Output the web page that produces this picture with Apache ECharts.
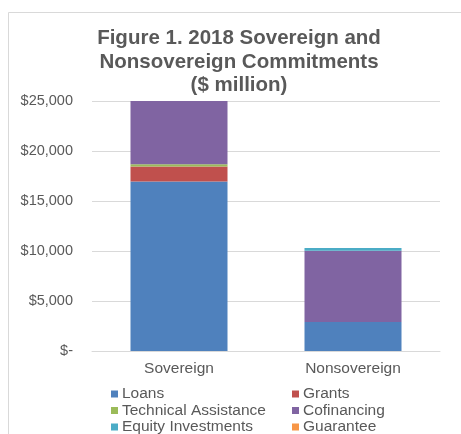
<!DOCTYPE html>
<html>
<head>
<meta charset="utf-8">
<script src="https://cdn.jsdelivr.net/npm/echarts@6/dist/echarts.min.js"></script>
<style>
  html, body { margin: 0; padding: 0; background: #fff; }
  #chart { width: 461px; height: 434px; }
</style>
</head>
<body>
<div id="chart"></div>
<script>
// 2018 commitments by type, $ million
const categories = ['Sovereign', 'Nonsovereign'];
const loans = [16950, 2900];
const grants = [1500, 0];
const technicalAssistance = [220, 0];
const cofinancing = [6330, 7130];
const equityInvestments = [0, 280];
const guarantee = [0, 0];
const yTicks = [0, 5000, 10000, 15000, 20000, 25000];

const FONT = '"Liberation Sans", Arial, sans-serif';
const TEXT = '#595959';

const seriesDefs = [
  { name: 'Loans', data: loans, color: '#4f81bd' },
  { name: 'Grants', data: grants, color: '#c0504d' },
  { name: 'Technical Assistance', data: technicalAssistance, color: '#9bbb59' },
  { name: 'Cofinancing', data: cofinancing, color: '#8064a2' },
  { name: 'Equity Investments', data: equityInvestments, color: '#4bacc6' },
  { name: 'Guarantee', data: guarantee, color: '#f79646' }
];

function fmt(v) {
  if (v === 0) return '$-';
  return '$' + v.toLocaleString('en-US');
}

const legendCommon = {
  orient: 'vertical',
  top: 386,
  height: 80,
  icon: 'rect',
  itemWidth: 7,
  itemHeight: 7,
  itemGap: 0.5,
  textStyle: { fontFamily: FONT, fontSize: 15.5, color: TEXT, lineHeight: 16, padding: [0, 0, 0, -1] },
  padding: 0
};

const chart = echarts.init(document.getElementById('chart'), null, { renderer: 'canvas' });
chart.setOption({
  backgroundColor: '#fff',
  animation: false,
  title: {
    text: 'Figure 1. 2018 Sovereign and\nNonsovereign Commitments\n($ million)',
    left: 234,
    top: 22,
    textAlign: 'center',
    textStyle: { fontFamily: FONT, fontSize: 20.5, fontWeight: 'bold', color: TEXT, lineHeight: 23.5 }
  },
  graphic: [{
    type: 'rect',
    shape: { x: 8.5, y: 12.5, width: 500, height: 500 },
    style: { fill: 'none', stroke: '#d9d9d9', lineWidth: 1 },
    silent: true
  }],
  legend: [
    Object.assign({}, legendCommon, { left: 111, data: ['Loans', 'Technical Assistance', 'Equity Investments'] }),
    Object.assign({}, legendCommon, { left: 292, data: ['Grants', 'Cofinancing', 'Guarantee'] })
  ],
  grid: { left: 92, right: 21, top: 101, bottom: 83, containLabel: false },
  xAxis: {
    type: 'category',
    data: categories,
    axisLine: { lineStyle: { color: '#d9d9d9' } },
    axisTick: { show: false },
    axisLabel: { fontFamily: FONT, fontSize: 15.5, color: TEXT, margin: 10 }
  },
  yAxis: {
    type: 'value',
    min: yTicks[0],
    max: yTicks[yTicks.length - 1],
    interval: yTicks[1] - yTicks[0],
    axisLine: { show: false },
    axisTick: { show: false },
    splitLine: { lineStyle: { color: '#d9d9d9' } },
    axisLabel: { fontFamily: FONT, fontSize: 14.5, color: TEXT, margin: 19, formatter: fmt }
  },
  series: seriesDefs.map(s => ({
    name: s.name,
    type: 'bar',
    stack: 'total',
    barWidth: 97,
    data: s.data,
    itemStyle: { color: s.color }
  }))
});
</script>
</body>
</html>
